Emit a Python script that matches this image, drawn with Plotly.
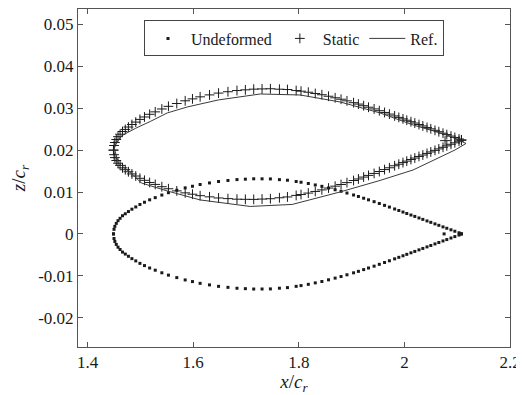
import plotly.graph_objects as go

# ---------------- data ----------------
x_surf = [1.4490, 1.4500, 1.4516, 1.4543, 1.4576, 1.4615, 1.4661, 1.4714, 1.4773, 1.4839,
          1.4912, 1.4991, 1.5077, 1.5175, 1.5281, 1.5406, 1.5531, 1.5689, 1.5848, 1.5986,
          1.6131, 1.6309, 1.6480, 1.6658, 1.6829, 1.6988, 1.7146, 1.7304, 1.7462, 1.7633,
          1.7785, 1.7950, 1.8042, 1.8180, 1.8312, 1.8437, 1.8563, 1.8688, 1.8800, 1.8912,
          1.9037, 1.9129, 1.9228, 1.9320, 1.9426, 1.9525, 1.9624, 1.9716, 1.9815, 1.9894,
          1.9973, 2.0045, 2.0124, 2.0197, 2.0276, 2.0349, 2.0428, 2.0500, 2.0579, 2.0652,
          2.0731, 2.0803, 2.0882, 2.0955, 2.1034, 2.1080]

undef_upper = [0.0, 0.00110, 0.00180, 0.00251, 0.00317, 0.00372, 0.00434, 0.00481, 0.00534, 0.00590,
               0.00644, 0.00703, 0.00756, 0.00814, 0.00866, 0.00928, 0.00984, 0.01043, 0.01099, 0.01138,
               0.01180, 0.01217, 0.01252, 0.01276, 0.01297, 0.01307, 0.01316, 0.01315, 0.01313, 0.01296,
               0.01282, 0.01252, 0.01234, 0.01204, 0.01169, 0.01136, 0.01096, 0.01055, 0.01018, 0.00976,
               0.00929, 0.00894, 0.00852, 0.00814, 0.00770, 0.00726, 0.00682, 0.00641, 0.00595, 0.00559,
               0.00522, 0.00488, 0.00451, 0.00418, 0.00381, 0.00347, 0.00310, 0.00276, 0.00239, 0.00205,
               0.00168, 0.00135, 0.00098, 0.00064, 0.00027, 0.00006]

undef_lower = [0.0, -0.00110, -0.00180, -0.00251, -0.00317, -0.00372, -0.00434, -0.00481, -0.00534, -0.00590,
               -0.00644, -0.00703, -0.00756, -0.00814, -0.00866, -0.00928, -0.00984, -0.01043, -0.01099, -0.01138,
               -0.01180, -0.01217, -0.01252, -0.01276, -0.01297, -0.01307, -0.01316, -0.01315, -0.01313, -0.01296,
               -0.01282, -0.01252, -0.01234, -0.01204, -0.01169, -0.01136, -0.01096, -0.01055, -0.01018, -0.00976,
               -0.00929, -0.00894, -0.00852, -0.00814, -0.00770, -0.00726, -0.00682, -0.00641, -0.00595, -0.00559,
               -0.00522, -0.00488, -0.00451, -0.00418, -0.00381, -0.00347, -0.00310, -0.00276, -0.00239, -0.00205,
               -0.00168, -0.00135, -0.00098, -0.00064, -0.00027, -0.00006]

static_upper = [0.02000, 0.02111, 0.02182, 0.02254, 0.02322, 0.02380, 0.02445, 0.02495, 0.02552, 0.02612,
                0.02670, 0.02734, 0.02792, 0.02856, 0.02914, 0.02983, 0.03046, 0.03113, 0.03178, 0.03224,
                0.03273, 0.03319, 0.03362, 0.03395, 0.03423, 0.03440, 0.03456, 0.03462, 0.03466, 0.03455,
                0.03447, 0.03423, 0.03408, 0.03383, 0.03352, 0.03323, 0.03287, 0.03250, 0.03216, 0.03177,
                0.03133, 0.03100, 0.03061, 0.03025, 0.02984, 0.02942, 0.02900, 0.02861, 0.02817, 0.02782,
                0.02747, 0.02714, 0.02679, 0.02647, 0.02611, 0.02578, 0.02542, 0.02509, 0.02473, 0.02440,
                0.02404, 0.02372, 0.02336, 0.02303, 0.02267, 0.02246]

static_lower = [0.02000, 0.01891, 0.01822, 0.01752, 0.01688, 0.01636, 0.01577, 0.01533, 0.01484, 0.01432,
                0.01382, 0.01328, 0.01280, 0.01228, 0.01182, 0.01127, 0.01078, 0.01027, 0.00980, 0.00948,
                0.00913, 0.00885, 0.00858, 0.00843, 0.00829, 0.00826, 0.00824, 0.00832, 0.00840, 0.00863,
                0.00883, 0.00919, 0.00940, 0.00975, 0.01014, 0.01051, 0.01095, 0.01140, 0.01180, 0.01225,
                0.01275, 0.01312, 0.01357, 0.01397, 0.01444, 0.01490, 0.01536, 0.01579, 0.01627, 0.01664,
                0.01703, 0.01738, 0.01777, 0.01811, 0.01849, 0.01884, 0.01922, 0.01957, 0.01995, 0.02030,
                0.02068, 0.02102, 0.02140, 0.02175, 0.02213, 0.02234]

# single interior points near the trailing edge
undef_extra_x = [2.0752]
undef_extra_z = [0.0]
static_extra_x = [2.0770]
static_extra_z = [0.02227]

# reference (closed polyline, TE -> upper -> LE -> lower -> TE)
ref_x = [2.1168, 2.0809, 2.0165, 1.9540, 1.8783, 1.8026, 1.7269, 1.6474, 1.5887, 1.5509,
         1.5187, 1.4903, 1.4638, 1.4524, 1.4505, 1.4581, 1.4865, 1.5016, 1.5509, 1.6133,
         1.7080, 1.7875, 1.8783, 1.9540, 2.0165, 2.0487, 2.0960, 2.1168]
ref_z = [0.02160, 0.02363, 0.02601, 0.02888, 0.03150, 0.03317, 0.03341, 0.03198, 0.03031, 0.02888,
         0.02685, 0.02518, 0.02339, 0.02124, 0.02053, 0.01695, 0.01408, 0.01217, 0.01026, 0.00811,
         0.00656, 0.00704, 0.01002, 0.01277, 0.01527, 0.01726, 0.02005, 0.02160]

x_ticks = [1.4, 1.6, 1.8, 2.0, 2.2]
x_tick_labels = ["1.4", "1.6", "1.8", "2", "2.2"]
y_ticks = [-0.02, -0.01, 0.0, 0.01, 0.02, 0.03, 0.04, 0.05]
y_tick_labels = ["-0.02", "-0.01", "0", "0.01", "0.02", "0.03", "0.04", "0.05"]

# ---------------- figure ----------------
FONT = "Liberation Serif, Times New Roman, serif"
INK = "#1a1a1a"

undef_x_all = x_surf + x_surf[::-1] + undef_extra_x
undef_z_all = undef_upper + undef_lower[::-1] + undef_extra_z
static_x_all = x_surf + x_surf[::-1] + static_extra_x
static_z_all = static_upper + static_lower[::-1] + static_extra_z

fig = go.Figure()
fig.add_trace(go.Scatter(
    x=undef_x_all, y=undef_z_all, mode="markers", name="Undeformed",
    marker=dict(symbol="square", size=3, color=INK, line=dict(width=0)),
))
fig.add_trace(go.Scatter(
    x=static_x_all, y=static_z_all, mode="markers", name="Static",
    marker=dict(symbol="cross-thin", size=7, color=INK, line=dict(width=1, color=INK)),
))
fig.add_trace(go.Scatter(
    x=ref_x, y=ref_z, mode="lines", name="Ref.",
    line=dict(color="#3a3a3a", width=1),
))

axis_common = dict(
    showline=True, linecolor="#555555", linewidth=1, mirror="ticks",
    ticks="inside", ticklen=5, tickwidth=1, tickcolor="#555555",
    showgrid=False, zeroline=False, automargin=False,
    ticklabeloverflow="allow",
    tickfont=dict(family=FONT, size=17, color=INK),
)

fig.update_xaxes(
    range=[1.3818, 2.2], tickvals=x_ticks, ticktext=x_tick_labels,
    title=dict(text="<i>x</i>/<i>c</i><sub><i>r</i></sub>", font=dict(family=FONT, size=19, color=INK), standoff=8),
    **axis_common,
)
fig.update_yaxes(
    range=[-0.027, 0.0537], tickvals=y_ticks, ticktext=y_tick_labels,
    title=dict(text="<i>z</i>/<i>c</i><sub><i>r</i></sub>", font=dict(family=FONT, size=19, color=INK), standoff=8),
    **axis_common,
)

# the page places the figure 8 px in from the top-left corner, so the
# figure is sized to fit the 524x395 window from that offset
fig.update_layout(
    width=516, height=387,
    margin=dict(l=70, r=14, t=1, b=48),
    paper_bgcolor="white", plot_bgcolor="white",
    font=dict(family=FONT, size=16, color=INK),
    legend=dict(
        orientation="h", x=0.5, xanchor="center", y=0.966, yanchor="top",
        bordercolor="#444444", borderwidth=1, bgcolor="white",
        font=dict(family=FONT, size=16, color=INK),
        itemwidth=36, tracegroupgap=0,
    ),
    showlegend=True,
)

fig.write_html("out.html")
